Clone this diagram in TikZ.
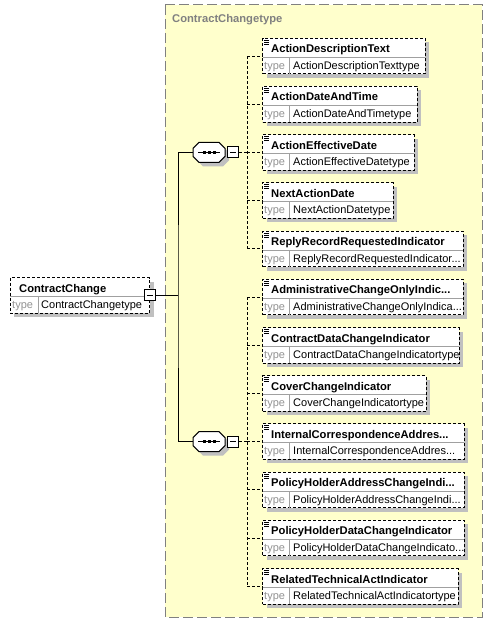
\documentclass[tikz,border=0pt]{standalone}
\usepackage{fontspec}
\setmainfont{Liberation Sans}
\usetikzlibrary{positioning, shadows}

\definecolor{xsdyellow}{RGB}{255,255,204}
\definecolor{xsdgray}{RGB}{128,128,128}
\definecolor{xsdshade}{RGB}{192,192,192}
\definecolor{xsdrule}{RGB}{160,160,160}

\newcommand{\xsdcut}{...}
% octagon outline of a sequence compositor, 32pt x 20pt
\newcommand{\seqoutline}{++(-16pt,-4pt) -- ++(0,8pt) -- ++(6pt,6pt) -- ++(20pt,0) -- ++(6pt,-6pt)
  -- ++(0,-8pt) -- ++(-6pt,-6pt) -- ++(-20pt,0) -- cycle}

\tikzset{
  boxshade/.style={drop shadow={shadow xshift=4pt, shadow yshift=-4pt, fill=xsdshade, opacity=1}},
  elbox/.style={draw=black, line width=1pt, dash pattern=on 3pt off 2pt, fill=white,
    anchor=north west, minimum height=35.5pt, inner sep=0pt, outer sep=0pt, boxshade},
  elname/.style={anchor=base west, inner sep=0pt, font=\fontsize{11.2}{13}\selectfont\bfseries},
  eltype/.style={anchor=base west, inner sep=0pt, font=\fontsize{11}{13}\selectfont},
  eltypelbl/.style={eltype, text=xsdgray!85},
  elrule/.style={draw=xsdrule, line width=1pt},
  seqbox/.style={minimum width=32pt, minimum height=20pt, inner sep=0pt, outer sep=0pt},
  minusbox/.style={draw=black, line width=1pt, fill=white, minimum size=11pt, inner sep=0pt},
  conn/.style={draw=black, line width=1pt},
  dashconn/.style={conn, dash pattern=on 3pt off 2pt}
}

\begin{document}
\begin{tikzpicture}[x=1pt,y=-1pt]
  \useasboundingbox (0,0) rectangle (492,623);

  % complex type area
  \draw[draw=xsdgray, fill=xsdyellow, line width=1pt, dash pattern=on 10pt off 4pt]
    (165,5) rectangle (482,617);
  \node[elname, text=xsdgray] (title) at (172,22.5) {ContractChangetype};

  % root element
  \node[elbox, minimum width=139.7pt] (root) at (10,277.5) {};
  \draw[elrule] ([yshift=-19pt]root.north west) -- ([yshift=-19pt]root.north east);
  \draw[elrule] ([shift={(28pt,-19pt)}]root.north west) -- ([xshift=28pt]root.south west);
  \node[elname] (rootname) at ([shift={(9pt,-14.5pt)}]root.north west) {ContractChange};
  \node[eltypelbl] (rootlbl) at ([shift={(2pt,-31pt)}]root.north west) {type};
  \node[eltype] (roottype) at ([shift={(31pt,-31pt)}]root.north west) {ContractChangetype};
  \node[minusbox] (rm) at (root.east) {};
  \draw[conn] ([xshift=-3pt]rm.center) -- ([xshift=3pt]rm.center);

  % child elements
  \foreach \i/\w/\nm/\tp in {0/425/ActionDescriptionText/ActionDescriptionTexttype,
      1/417/ActionDateAndTime/ActionDateAndTimetype,
      2/414/ActionEffectiveDate/ActionEffectiveDatetype,
      3/393/NextActionDate/NextActionDatetype,
      4/463/ReplyRecordRequestedIndicator/ReplyRecordRequestedIndicator\xsdcut,
      5/463/AdministrativeChangeOnlyIndic\xsdcut/AdministrativeChangeOnlyIndica\xsdcut,
      6/459/ContractDataChangeIndicator/ContractDataChangeIndicatortype,
      7/426/CoverChangeIndicator/CoverChangeIndicatortype,
      8/464/InternalCorrespondenceAddres\xsdcut/InternalCorrespondenceAddres\xsdcut,
      9/464/PolicyHolderAddressChangeIndi\xsdcut/PolicyHolderAddressChangeIndi\xsdcut,
      10/464/PolicyHolderDataChangeIndicator/PolicyHolderDataChangeIndicato\xsdcut,
      11/458/RelatedTechnicalActIndicator/RelatedTechnicalActIndicatortype}
  {
    \node[elbox, minimum width={(\w-262.5)*1pt}] (c\i) at (262.5,{38.3+48.2*\i}) {};
    \draw[elrule] ([yshift=-19pt]c\i.north west) -- ([yshift=-19pt]c\i.north east);
    \draw[elrule] ([shift={(27pt,-19pt)}]c\i.north west) -- ([xshift=27pt]c\i.south west);
    \foreach \k in {2,4,6}
      \draw[line width=1pt] ([shift={(1.5pt,-\k pt)}]c\i.north west) -- +(5pt,0);
    \node[elname] (n\i) at ([shift={(8.5pt,-14.5pt)}]c\i.north west) {\nm};
    \node[eltypelbl] (l\i) at ([shift={(1.5pt,-31pt)}]c\i.north west) {type};
    \node[eltype] (t\i) at ([shift={(30.5pt,-31pt)}]c\i.north west) {\tp};
  }

  % sequence compositors
  \node[seqbox] (s1) at (209,152.45) {};
  \node[seqbox] (s2) at (209,441.65) {};
  \foreach \s in {s1,s2} {
    \fill[xsdshade] ([shift={(4pt,-4pt)}]\s.center) \seqoutline;
    \draw[conn, fill=white] (\s.center) \seqoutline;
    \draw[conn] ([xshift=-11pt]\s.center) -- ([xshift=11pt]\s.center);
    \foreach \d in {-5,0,5}
      \fill ([xshift=\d pt]\s.center) +(-1.5,-1.5) rectangle +(1.5,1.5);
  }
  \node[minusbox, right=2pt of s1] (mb1) {};
  \node[minusbox, right=2pt of s2] (mb2) {};
  \foreach \m in {mb1,mb2}
    \draw[conn] ([xshift=-3pt]\m.center) -- ([xshift=3pt]\m.center);

  % connectors
  \coordinate (jn) at (178,296);
  \draw[conn] (rm.east) -- (rm.east -| jn);
  \draw[conn] (s1.west) -| (jn) |- (s2.west);

  \coordinate (b1) at (247,152.45);
  \coordinate (b2) at (247,441.65);
  \draw[dashconn] (mb1.east) -- (b1);
  \draw[dashconn] (mb2.east) -- (b2);
  \draw[dashconn] (c0.west -| b1) -- (c4.west -| b1);
  \draw[dashconn] (c5.west -| b2) -- (c11.west -| b2);
  \foreach \i in {0,...,4}
    \draw[dashconn] (c\i.west -| b1) -- (c\i.west);
  \foreach \i in {5,...,11}
    \draw[dashconn] (c\i.west -| b2) -- (c\i.west);
\end{tikzpicture}
\end{document}
